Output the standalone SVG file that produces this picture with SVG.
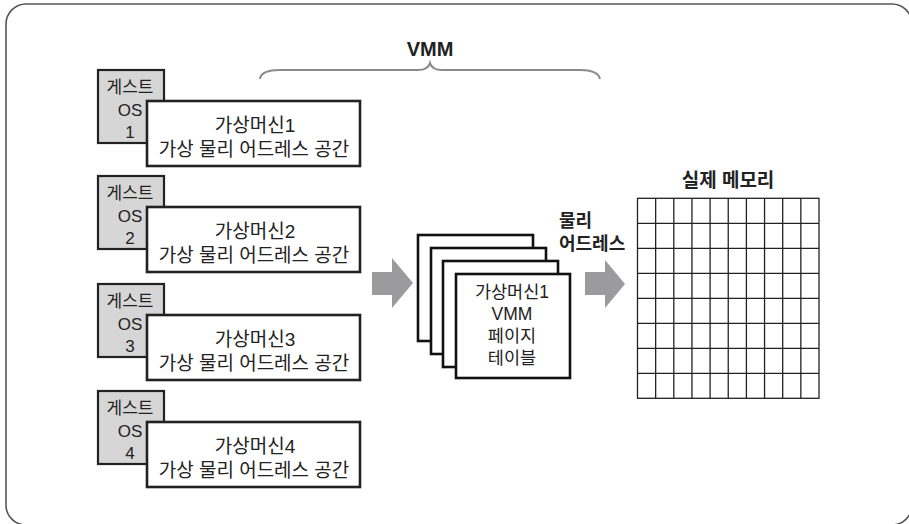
<svg xmlns="http://www.w3.org/2000/svg" width="909" height="524" viewBox="0 0 909 524">
<style>
text{font-family:"Liberation Sans","Noto Sans CJK KR",sans-serif;fill:#222}
.os{fill:#d6d6d6;stroke:#222;stroke-width:2.2}
.vm{fill:#fff;stroke:#222;stroke-width:2.6}
.pg{fill:#fff;stroke:#111;stroke-width:2.6}
.t16{font-size:17px;text-anchor:middle}
.t19{font-size:19px;text-anchor:middle}
.t17{font-size:17.5px;text-anchor:middle}
.b{font-weight:bold;font-size:18px}
.arrow{fill:#9b9b9d}
.grid{stroke:#222;stroke-width:1.3;fill:none}
</style>
<defs>
<g id="guest">
<rect class="os" x="98" y="0" width="66" height="73"/>
<rect class="vm" x="147" y="31" width="213" height="65"/>
</g>
</defs>
<rect x="6" y="4" width="906" height="521" rx="20" fill="#fff" stroke="#555" stroke-width="1.6"/>

<g id="vmm-label">
<text class="b" x="430" y="56" text-anchor="middle" style="font-size:20px">VMM</text>
</g>

<g id="guest1" transform="translate(0,70)">
<use href="#guest"/>
<text class="t16" x="130" y="23">게스트</text>
<text class="t16" x="130" y="46">OS</text>
<text class="t16" x="130" y="68">1</text>
<text class="t19" x="255" y="62">가상머신1</text>
<text class="t19" x="254" y="86">가상 물리 어드레스 공간</text>
</g>
<g id="guest2" transform="translate(0,176)">
<use href="#guest"/>
<text class="t16" x="130" y="23">게스트</text>
<text class="t16" x="130" y="46">OS</text>
<text class="t16" x="130" y="68">2</text>
<text class="t19" x="255" y="62">가상머신2</text>
<text class="t19" x="254" y="86">가상 물리 어드레스 공간</text>
</g>
<g id="guest3" transform="translate(0,284)">
<use href="#guest"/>
<text class="t16" x="130" y="23">게스트</text>
<text class="t16" x="130" y="46">OS</text>
<text class="t16" x="130" y="68">3</text>
<text class="t19" x="255" y="62">가상머신3</text>
<text class="t19" x="254" y="86">가상 물리 어드레스 공간</text>
</g>
<g id="guest4" transform="translate(0,391)">
<use href="#guest"/>
<text class="t16" x="130" y="23">게스트</text>
<text class="t16" x="130" y="46">OS</text>
<text class="t16" x="130" y="68">4</text>
<text class="t19" x="255" y="62">가상머신4</text>
<text class="t19" x="254" y="86">가상 물리 어드레스 공간</text>
</g>

<g id="page-tables">
<rect class="pg" x="418" y="235" width="115" height="106"/>
<rect class="pg" x="431" y="248" width="115" height="106"/>
<rect class="pg" x="443" y="261" width="115" height="106"/>
<rect class="pg" x="456" y="274" width="114" height="104"/>
<text class="t17" x="512" y="298">가상머신1</text>
<text class="t17" x="512" y="320">VMM</text>
<text class="t17" x="512" y="342">페이지</text>
<text class="t17" x="512" y="364">테이블</text>
</g>

<g id="phys-addr-label">
<text class="b" x="559" y="227">물리</text>
<text class="b" x="559" y="250">어드레스</text>
</g>

<g id="real-memory">
<text class="b" x="728" y="187" text-anchor="middle" style="font-size:19px">실제 메모리</text>
<rect class="grid" x="637.5" y="198.3" width="181.5" height="200"/>
<path class="grid" d="M655.65,198.3V398.3M673.8,198.3V398.3M691.95,198.3V398.3M710.1,198.3V398.3M728.25,198.3V398.3M746.4,198.3V398.3M764.55,198.3V398.3M782.7,198.3V398.3M800.85,198.3V398.3
M637.5,223.3H819M637.5,248.3H819M637.5,273.3H819M637.5,298.3H819M637.5,323.3H819M637.5,348.3H819M637.5,373.3H819"/>
</g>

<g id="connectors">
<path d="M260,79 Q261,70 280,70 L418,70 Q428,70 430,63 Q432,70 442,70 L580,70 Q598,70 600,79" fill="none" stroke="#8a8a8a" stroke-width="2"/>
<polygon class="arrow" points="372,272 392,272 392,258 413,283 392,308 392,295 372,295"/>
<polygon class="arrow" points="585,272 605,272 605,260 625,284 605,308 605,295 585,295"/>
</g>
</svg>
